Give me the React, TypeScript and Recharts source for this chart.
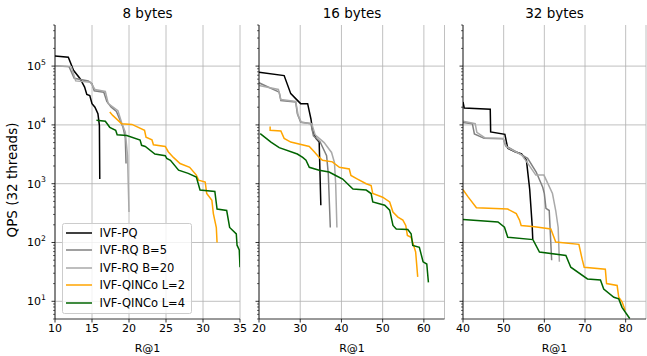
import React from "react";
import { LineChart, Line, XAxis, YAxis, CartesianGrid, Legend } from "recharts";

const FONT = "DejaVu Sans, sans-serif";

// series: [R@1, QPS]
const PQ_8 = [[10, 148000], [11.8, 142000], [12.5, 85000], [13.4, 61000], [14.0, 44000], [14.3, 33000], [14.7, 31500], [15.0, 23000], [15.4, 20000], [15.8, 15500], [16.0, 9800], [16.05, 1200]];
const RQ5_8 = [[10, 100000], [11.9, 98000], [12.6, 62000], [14.5, 56000], [15.0, 50000], [15.3, 38000], [16.6, 36000], [17.0, 25000], [17.6, 20000], [18.3, 17000], [18.8, 12000], [19.2, 9000], [19.5, 6000], [19.6, 2200]];
const RQ20_8 = [[10, 100000], [12.2, 98000], [12.8, 56000], [14.8, 53000], [15.4, 40000], [16.8, 37000], [17.2, 23000], [18.5, 17500], [19.0, 11000], [19.5, 7500], [19.8, 3000], [20.0, 330]];
const QINCO2_8 = [[17.4, 16500], [17.8, 14500], [19.0, 10500], [20.4, 10200], [22.1, 8100], [22.3, 6200], [23.1, 5600], [23.3, 4600], [24.9, 4300], [25.3, 3500], [26.0, 2800], [26.9, 2200], [28.2, 1900], [29.1, 1400], [29.4, 1150], [30.3, 1070], [30.5, 680], [31.2, 520], [31.4, 310], [31.8, 180], [31.9, 100]];
const QINCO4_8 = [[15.6, 12000], [16.8, 11500], [17.4, 9100], [18.2, 8100], [18.4, 6800], [19.7, 6600], [21.5, 5500], [21.7, 4500], [22.2, 4300], [23.5, 3200], [24.9, 3000], [25.1, 2700], [25.6, 2500], [26.7, 1700], [28.0, 1500], [29.1, 1300], [29.6, 780], [31.6, 740], [31.9, 370], [33.2, 350], [33.6, 180], [34.5, 140], [34.6, 90], [34.9, 75], [35.0, 38]];

const PQ_16 = [[20, 79000], [26.1, 69000], [27.7, 34000], [30.1, 23000], [31.8, 23000], [32.6, 12600], [33.0, 8100], [33.8, 5900], [34.6, 5100], [35.0, 430]];
const RQ5_16 = [[20, 52000], [24.9, 36000], [25.3, 26000], [28.9, 24500], [29.3, 15500], [30.1, 11200], [32.6, 10500], [33.2, 6500], [34.8, 5200], [36.4, 3000], [36.8, 1500], [37.3, 180]];
const RQ20_16 = [[20, 47000], [24.7, 40000], [25.3, 27000], [28.9, 25000], [29.5, 14500], [30.3, 11000], [32.8, 10500], [33.6, 6800], [35.8, 5000], [37.6, 3400], [38.3, 2300], [38.6, 1000], [38.9, 180]];
const QINCO2_16 = [[22.7, 9400], [22.7, 8100], [25.3, 7900], [26.1, 5900], [27.7, 5100], [32.2, 4300], [33.4, 3500], [34.6, 2800], [35.4, 2500], [37.8, 2350], [39.5, 1900], [41.9, 1780], [42.3, 1380], [43.9, 1200], [46.0, 1000], [47.2, 930], [47.6, 680], [50.0, 590], [51.7, 490], [52.5, 330], [53.7, 270], [54.9, 240], [55.6, 195], [56.0, 132], [56.9, 123], [58.0, 69], [58.5, 26]];
const QINCO4_16 = [[20.3, 7100], [22.9, 5100], [24.9, 4100], [29.3, 3200], [30.6, 2800], [31.4, 2500], [32.2, 1900], [34.6, 1700], [37.0, 1580], [38.6, 1380], [40.3, 1200], [41.9, 930], [42.8, 810], [46.0, 780], [47.2, 680], [47.6, 490], [50.5, 430], [51.7, 355], [52.5, 195], [53.3, 170], [56.1, 166], [56.9, 141], [57.3, 89], [58.9, 83], [59.8, 47], [60.7, 43], [61.1, 21]];

const PQ_32 = [[40, 24500], [40.3, 19400], [46.7, 18500], [46.8, 7600], [50.3, 6900], [51.0, 4000], [52.8, 3500], [54.4, 3200], [55.6, 2500], [56.4, 800], [57.0, 200], [57.15, 115]];
const RQ5_32 = [[40, 11000], [42.3, 10500], [42.8, 7000], [45.2, 5900], [49.9, 5800], [50.5, 4400], [54.4, 3100], [55.9, 2700], [58.0, 1580], [59.6, 870], [60.0, 680], [60.4, 380], [61.2, 350], [61.8, 50]];
const RQ20_32 = [[40, 11500], [43.0, 10500], [43.4, 7500], [45.4, 6000], [49.9, 5900], [50.7, 4200], [54.4, 3100], [55.6, 2400], [57.9, 1400], [59.9, 1400], [62.0, 680], [62.8, 350], [63.4, 180], [63.7, 47]];
const QINCO2_32 = [[40, 790], [41.3, 590], [43.3, 390], [51.0, 370], [53.1, 310], [53.9, 240], [54.3, 195], [57.6, 186], [61.6, 170], [62.8, 102], [68.5, 93], [69.3, 52], [69.8, 38], [75.0, 35], [75.3, 20], [77.9, 18.6], [78.3, 11.7], [79.1, 9.8], [79.9, 7]];
const QINCO4_32 = [[40, 245], [48.6, 224], [50.2, 182], [51.0, 123], [57.2, 112], [58.8, 69], [65.3, 60], [66.5, 38], [70.6, 24], [73.8, 23], [74.6, 16.2], [77.1, 11.7], [78.3, 11], [79.1, 7.9], [81.0, 5.1]];

const SERIES = [
  { name: "IVF-PQ", color: "#000000" },
  { name: "IVF-RQ B=5", color: "#808080" },
  { name: "IVF-RQ B=20", color: "#a9a9a9" },
  { name: "IVF-QINCo L=2", color: "#ffa500" },
  { name: "IVF-QINCo L=4", color: "#006400" },
];

const Y_MAJOR = [10, 100, 1000, 10000, 100000];
const Y_EXP = ["1", "2", "3", "4", "5"];
const Y_MINOR_MULT = [2, 3, 4, 5, 6, 7, 8, 9];
const Y_DOMAIN = [5, 500000];

const X_TICKS_8 = [10, 15, 20, 25, 30, 35];
const X_TICKS_16 = [20, 30, 40, 50, 60];
const X_TICKS_32 = [40, 50, 60, 70, 80];

const yTicks = [...Y_MAJOR];
[1, 10, 100, 1000, 10000, 100000].forEach((d) =>
  Y_MINOR_MULT.forEach((m) => {
    const v = d * m;
    if (v >= Y_DOMAIN[0] && v <= Y_DOMAIN[1]) yTicks.push(v);
  })
);
yTicks.sort((a, b) => a - b);

const toPts = (arr: number[][]) => arr.map(([x, y]) => ({ x, y }));

const YTick = (props: any) => {
  const { x, y, payload, showLabels } = props;
  const idx = Y_MAJOR.indexOf(payload.value);
  const major = idx >= 0;
  return (
    <g>
      <line x1={x - (major ? 3.5 : 2)} x2={x} y1={y} y2={y} stroke="#000" strokeWidth={major ? 0.8 : 0.6} />
      {major && showLabels && (
        <text x={x - 9} y={y + 4} textAnchor="end" fontSize={11} fontFamily={FONT} fill="#000">
          10
          <tspan dy={-5.5} fontSize={7.7}>{Y_EXP[idx]}</tspan>
        </text>
      )}
    </g>
  );
};

const LegendBox = () => (
  <div
    style={{
      width: 130,
      boxSizing: "border-box",
      border: "1px solid #cccccc",
      borderRadius: 2.5,
      background: "rgba(255,255,255,0.8)",
      padding: "0 0 1.5px 0",
      fontFamily: FONT,
      fontSize: 11.5,
      color: "#000",
    }}
  >
    {SERIES.map((s) => (
      <div key={s.name} style={{ display: "flex", alignItems: "center", height: 17.5 }}>
        <svg width={30} height={10} style={{ display: "block" }}>
          <line x1={3} x2={29} y1={5} y2={5} stroke={s.color} strokeWidth={1.5} />
        </svg>
        <span style={{ marginLeft: 7, whiteSpace: "nowrap" }}>{s.name}</span>
      </div>
    ))}
  </div>
);

type PanelProps = {
  left: number;
  yWidth: number;
  plotWidth: number;
  marginRight: number;
  xDomain: number[];
  xTicks: number[];
  lines: number[][][];
  showLabels?: boolean;
  showLegend?: boolean;
};

function Panel({ left, yWidth, plotWidth, marginRight, xDomain, xTicks, lines, showLabels, showLegend }: PanelProps) {
  return (
    <div style={{ position: "absolute", left, top: 0 }}>
      <LineChart
        width={yWidth + plotWidth + marginRight}
        height={356}
        margin={{ top: 25, right: marginRight, bottom: 7, left: 0 }}
      >
        <CartesianGrid stroke="#b0b0b0" strokeWidth={0.8} horizontalValues={Y_MAJOR} />
        <XAxis
          dataKey="x"
          type="number"
          domain={xDomain}
          ticks={xTicks}
          interval={0}
          allowDataOverflow
          height={30}
          tickSize={3.5}
          tickMargin={2}
          axisLine={{ stroke: "#000", strokeWidth: 0.8 }}
          tickLine={{ stroke: "#000", strokeWidth: 0.8 }}
          tick={{ fill: "#000", fontSize: 11, fontFamily: FONT }}
        />
        <XAxis xAxisId="top" orientation="top" type="number" domain={[0, 1]} height={0} tick={false} tickLine={false} axisLine={{ stroke: "#000", strokeWidth: 0.8 }} />
        <YAxis
          type="number"
          scale="log"
          domain={Y_DOMAIN}
          ticks={yTicks}
          interval={0}
          allowDataOverflow
          width={yWidth}
          tickSize={0}
          tickMargin={0}
          tickLine={false}
          axisLine={{ stroke: "#000", strokeWidth: 0.8 }}
          tick={<YTick showLabels={showLabels} />}
        />
        <YAxis yAxisId="right" orientation="right" type="number" domain={[0, 1]} width={0} tick={false} tickLine={false} axisLine={{ stroke: "#000", strokeWidth: 0.8 }} />
        {lines.map((pts, i) => (
          <Line
            key={SERIES[i].name}
            name={SERIES[i].name}
            data={toPts(pts)}
            dataKey="y"
            type="linear"
            stroke={SERIES[i].color}
            strokeWidth={1.5}
            dot={false}
            isAnimationActive={false}
          />
        ))}
        {showLegend && (
          <Legend
            layout="vertical"
            align="center"
            verticalAlign="middle"
            wrapperStyle={{ left: 61.5, top: 223, width: "auto" }}
            content={() => <LegendBox />}
          />
        )}
      </LineChart>
    </div>
  );
}

const textStyle: React.CSSProperties = {
  position: "absolute",
  fontFamily: FONT,
  color: "#000",
  whiteSpace: "nowrap",
  transform: "translate(-50%, -50%)",
};

export default function App() {
  const centers = [147.5, 352, 554.5];
  const titles = ["8 bytes", "16 bytes", "32 bytes"];
  return (
    <div style={{ position: "absolute", left: 0, top: 0, width: 647, height: 356, background: "#fff", overflow: "hidden" }}>
      <Panel left={0} yWidth={55} plotWidth={185} marginRight={14} xDomain={[10, 35]} xTicks={X_TICKS_8}
        lines={[PQ_8, RQ5_8, RQ20_8, QINCO2_8, QINCO4_8]} showLabels showLegend />
      <Panel left={249} yWidth={10} plotWidth={185.5} marginRight={12} xDomain={[20, 65]} xTicks={X_TICKS_16}
        lines={[PQ_16, RQ5_16, RQ20_16, QINCO2_16, QINCO4_16]} />
      <Panel left={453} yWidth={10} plotWidth={183} marginRight={1} xDomain={[40, 85]} xTicks={X_TICKS_32}
        lines={[PQ_32, RQ5_32, RQ20_32, QINCO2_32, QINCO4_32]} />
      {titles.map((t, i) => (
        <div key={t} style={{ ...textStyle, left: centers[i], top: 13, fontSize: 13.5 }}>{t}</div>
      ))}
      {centers.map((c) => (
        <div key={c} style={{ ...textStyle, left: c, top: 348, fontSize: 11 }}>R@1</div>
      ))}
      <div style={{ ...textStyle, left: 12, top: 180, fontSize: 13.5, transform: "translate(-50%, -50%) rotate(-90deg)" }}>
        QPS (32 threads)
      </div>
    </div>
  );
}
